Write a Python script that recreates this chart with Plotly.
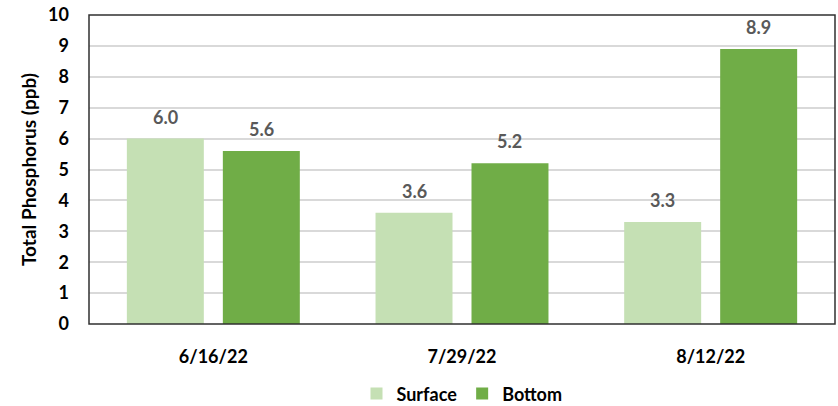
import plotly.graph_objects as go

dates = ["6/16/22", "7/29/22", "8/12/22"]
surface = [6.0, 3.6, 3.3]
bottom = [5.6, 5.2, 8.9]

FONT = "Lato"
BARGAP = 0.228
GROUPGAP = 0.198
PLOT_W = 838 - 89 - 3

fig = go.Figure()
fig.add_trace(go.Bar(x=dates, y=surface, name="Surface",
                     marker_color="#C5E0B4", marker_line_width=0))
fig.add_trace(go.Bar(x=dates, y=bottom, name="Bottom",
                     marker_color="#70AD47", marker_line_width=0))

# value labels above the bars
slot = PLOT_W / len(dates) * (1 - BARGAP) / 2
for vals, shift in [(surface, -slot / 2), (bottom, slot / 2)]:
    for d, v in zip(dates, vals):
        fig.add_annotation(x=d, y=v, text=f"<b>{v:.1f}</b>", showarrow=False,
                           xshift=shift, yshift=22, yanchor="middle",
                           font=dict(family=FONT, size=18, color="#595959"))

fig.add_shape(type="rect", xref="paper", yref="paper", x0=0, y0=0, x1=1, y1=1,
              line=dict(color="#303030", width=1.5), layer="above")

fig.update_layout(
    width=838, height=406,
    margin=dict(l=89, r=3, t=15, b=82, autoexpand=False),
    plot_bgcolor="white", paper_bgcolor="white",
    barmode="group", bargap=BARGAP, bargroupgap=GROUPGAP,
    font=dict(family=FONT, size=16, color="black"),
    showlegend=True,
    legend=dict(orientation="h", x=0.5, xanchor="center",
                yref="container", y=0.03, yanchor="middle",
                font=dict(family=FONT, size=18, color="black", weight="bold"),
                traceorder="normal"),
)
fig.update_xaxes(automargin=False, showline=False,
                 tickfont=dict(family=FONT, size=18, color="black", weight="bold"),
                 ticks="", ticklabelstandoff=20)
fig.update_yaxes(automargin=False, range=[0, 10], dtick=1, showgrid=True,
                 gridcolor="#D9D9D9", gridwidth=1.5, showline=False, zeroline=False,
                 tickfont=dict(family=FONT, size=18, color="black", weight="bold"),
                 ticklabelstandoff=19,
                 title=dict(text="<b>Total Phosphorus (ppb)</b>",
                            font=dict(family=FONT, size=19, color="black"), standoff=6))

# drop the default page margin so the figure fills the window exactly
fig.write_html("out.html", config={"displayModeBar": False},
               post_script="document.body.style.margin='0';")
